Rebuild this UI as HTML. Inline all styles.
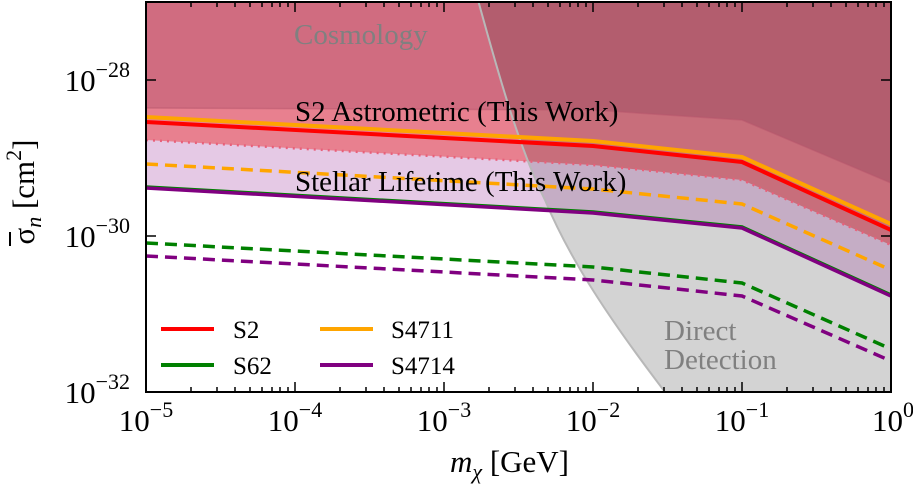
<!DOCTYPE html>
<html><head><meta charset="utf-8"><style>
html,body{margin:0;padding:0;background:#fff;}
svg{display:block;font-family:"Liberation Serif","DejaVu Serif",serif;}
</style></head><body>
<svg width="913" height="487" viewBox="0 0 913 487" xmlns="http://www.w3.org/2000/svg">
<defs><clipPath id="c"><rect x="146" y="2" width="745" height="390"/></clipPath></defs>
<g clip-path="url(#c)">
  <path d="M478,0 C500,80 520,150 545,200 C570,260 610,320 665,392 L891,392 L891,0 Z" fill="#f5f5f5"/>
  <path d="M146,188 L593,213 L742,228 L891,296 L891,0 L146,0 Z" fill="#e5c9e5"/>
  <path d="M146,140 L593,165 L742,180 L891,245 L891,0 L146,0 Z" fill="#e8808f"/>
  <path d="M146,108 L593,110 L742,120 L891,183 L891,0 L146,0 Z" fill="#d06c80"/>
  <path d="M478,0 C500,80 520,150 545,200 C570,260 610,320 665,392 L891,392 L891,0 Z" fill="#dcdcdc" style="mix-blend-mode:multiply"/>
  <path d="M478,0 C500,80 520,150 545,200 C570,260 610,320 665,392" fill="none" stroke="#b8b8b8" stroke-width="2"/>
  <path d="M146,108 L593,110 L742,120 L891,183" fill="none" stroke="#b8566c" stroke-width="1.5" opacity="0.5"/>
  <path d="M146,140 L593,165 L742,180 L891,245" fill="none" stroke="#e8607a" stroke-width="2.5" stroke-dasharray="2,5"/>
  <path d="M146,117 L593,141 L742,157 L891,224" fill="none" stroke="#ffa500" stroke-width="4"/>
  <path d="M146,122 L593,146 L742,162 L891,230" fill="none" stroke="#ff0000" stroke-width="4"/>
  <path d="M146,164 L593,189 L742,204 L891,270" fill="none" stroke="#ffa500" stroke-width="3.5" stroke-dasharray="12,7"/>
  <path d="M146,187 L593,212 L742,227 L891,295" fill="none" stroke="#008000" stroke-width="3.5"/>
  <path d="M146,188 L593,213 L742,228 L891,296" fill="none" stroke="#800080" stroke-width="3.5"/>
  <path d="M146,243 L593,267 L742,283 L891,349" fill="none" stroke="#008000" stroke-width="3.5" stroke-dasharray="12,7"/>
  <path d="M146,256 L593,280 L742,296 L891,361" fill="none" stroke="#800080" stroke-width="3.5" stroke-dasharray="12,7"/>
</g>
<text x="294" y="44" font-size="29" fill="#808080">Cosmology</text>
<text x="295" y="121" font-size="29" fill="#000">S2 Astrometric (This Work)</text>
<text x="295" y="191" font-size="29" fill="#000">Stellar Lifetime (This Work)</text>
<text x="664" y="340" font-size="29" fill="#808080">Direct</text>
<text x="664" y="369" font-size="29" fill="#808080">Detection</text>
<line x1="161" y1="329" x2="214" y2="329" stroke="#ff0000" stroke-width="4"/>
<text x="233" y="338" font-size="25">S2</text>
<line x1="320" y1="329" x2="373" y2="329" stroke="#ffa500" stroke-width="4"/>
<text x="391" y="338" font-size="25">S4711</text>
<line x1="161" y1="365" x2="214" y2="365" stroke="#008000" stroke-width="4"/>
<text x="233" y="374" font-size="25">S62</text>
<line x1="320" y1="365" x2="373" y2="365" stroke="#800080" stroke-width="4"/>
<text x="391" y="374" font-size="25">S4714</text>
<rect x="146" y="2" width="745" height="390" fill="none" stroke="#000" stroke-width="2"/>
<g stroke="#000" stroke-width="1.5">
<path d="M146,392 v-10 M191,392 v-5 M217,392 v-5 M235,392 v-5 M250,392 v-5 M262,392 v-5 M272,392 v-5 M280,392 v-5 M288,392 v-5
M295,392 v-10 M340,392 v-5 M366,392 v-5 M384,392 v-5 M399,392 v-5 M411,392 v-5 M421,392 v-5 M429,392 v-5 M437,392 v-5
M444,392 v-10 M489,392 v-5 M515,392 v-5 M533,392 v-5 M548,392 v-5 M560,392 v-5 M570,392 v-5 M578,392 v-5 M586,392 v-5
M593,392 v-10 M638,392 v-5 M664,392 v-5 M682,392 v-5 M697,392 v-5 M709,392 v-5 M719,392 v-5 M727,392 v-5 M735,392 v-5
M742,392 v-10 M787,392 v-5 M813,392 v-5 M831,392 v-5 M846,392 v-5 M858,392 v-5 M868,392 v-5 M876,392 v-5 M884,392 v-5" fill="none"/>
<path d="M146,2 v10 M191,2 v5 M217,2 v5 M235,2 v5 M250,2 v5 M262,2 v5 M272,2 v5 M280,2 v5 M288,2 v5
M295,2 v10 M340,2 v5 M366,2 v5 M384,2 v5 M399,2 v5 M411,2 v5 M421,2 v5 M429,2 v5 M437,2 v5
M444,2 v10 M489,2 v5 M515,2 v5 M533,2 v5 M548,2 v5 M560,2 v5 M570,2 v5 M578,2 v5 M586,2 v5
M593,2 v10 M638,2 v5 M664,2 v5 M682,2 v5 M697,2 v5 M709,2 v5 M719,2 v5 M727,2 v5 M735,2 v5
M742,2 v10 M787,2 v5 M813,2 v5 M831,2 v5 M846,2 v5 M858,2 v5 M868,2 v5 M876,2 v5 M884,2 v5" fill="none"/>
<path d="M146,80 h10 M146,236 h10 M891,80 h-10 M891,236 h-10" fill="none"/>
</g>
<g font-size="31" text-anchor="middle">
<text x="146" y="431">10<tspan font-size="22" dy="-14">−5</tspan></text>
<text x="295" y="431">10<tspan font-size="22" dy="-14">−4</tspan></text>
<text x="444" y="431">10<tspan font-size="22" dy="-14">−3</tspan></text>
<text x="593" y="431">10<tspan font-size="22" dy="-14">−2</tspan></text>
<text x="742" y="431">10<tspan font-size="22" dy="-14">−1</tspan></text>
<text x="893" y="431">10<tspan font-size="22" dy="-14">0</tspan></text>
</g>
<g font-size="31" text-anchor="end">
<text x="130" y="91">10<tspan font-size="22" dy="-14">−28</tspan></text>
<text x="130" y="247">10<tspan font-size="22" dy="-14">−30</tspan></text>
<text x="130" y="403">10<tspan font-size="22" dy="-14">−32</tspan></text>
</g>
<text x="450" y="472" font-size="31"><tspan font-style="italic">m</tspan><tspan font-style="italic" font-size="22" dy="7">χ</tspan><tspan dy="-7"> [GeV]</tspan></text>
<g transform="translate(34,192) rotate(-90)">
<text x="0" y="0" font-size="31" text-anchor="middle"><tspan>σ</tspan><tspan font-style="italic" font-size="22" dy="7">n</tspan><tspan dy="-7"> [cm</tspan><tspan font-size="22" dy="-13">2</tspan><tspan dy="13">]</tspan></text>
<line x1="-54" y1="-24" x2="-40" y2="-24" stroke="#000" stroke-width="2"/>
</g>
</svg>
</body></html>
